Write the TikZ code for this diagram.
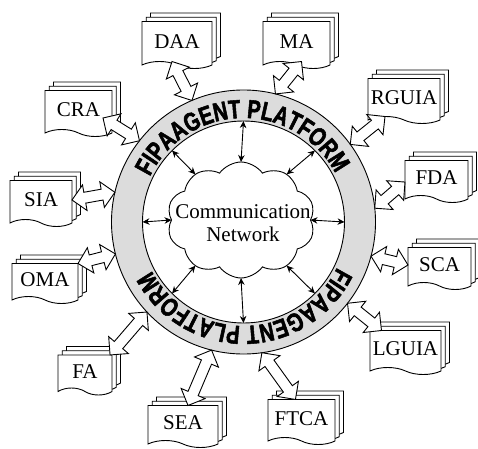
\documentclass[tikz,border=0pt]{standalone}
\usepackage{fontspec}
\setmainfont{Liberation Serif}
\newfontfamily\ringfont{Liberation Sans}[FakeStretch=0.76,FakeBold=2]
\usetikzlibrary{calc,shapes.symbols,shadows,decorations.text,arrows.meta}
\definecolor{CDCDCDC}{HTML}{DCDCDC}
\newcommand\ringtext{\ringfont\bfseries\fontsize{26}{26}\selectfont}
\tikzset{
  agent/.style={shape=tape, tape bend top=none, tape bend bottom=out and in,
    tape bend height=7pt, draw, fill=white, line width=0.9pt,
    minimum width=66pt, minimum height=44pt, inner sep=1pt,
    font=\fontsize{21}{23}\selectfont,
    copy shadow={shadow xshift=8.5pt, shadow yshift=8.5pt, line width=0.9pt},
    copy shadow={shadow xshift=4.25pt, shadow yshift=4.25pt, line width=0.9pt}},
  netarrow/.style={draw, line width=0.9pt,
    {Stealth[length=7pt,width=6.5pt]}-{Stealth[length=7pt,width=6.5pt]}},
  bigarrow/.style={draw, fill=white, line width=0.9pt, line join=miter,
    to path={let \p1=(\tikztostart), \p2=(\tikztotarget),
      \n1={atan2(\y2-\y1,\x2-\x1)}, \n2={veclen(\x2-\x1,\y2-\y1)} in
      [shift={(\p1)}, rotate=\n1]
      (0,0) -- (13,13) -- (13,5.5) -- (\n2-13,5.5) -- (\n2-13,13) -- (\n2,0)
      -- (\n2-13,-13) -- (\n2-13,-5.5) -- (13,-5.5) -- (13,-13) -- cycle}},
}

\begin{document}
\begin{tikzpicture}[x=1pt,y=1pt,inner sep=0pt,outer sep=0pt]
\useasboundingbox (0,0) rectangle (478,448);
% platform ring
\node (nring) [circle, draw, fill=CDCDCDC, line width=0.9pt, minimum size=264pt, at={(243.5pt,226pt)}] {};
\node (ninner) [circle, draw, fill=white, line width=0.9pt, minimum size=202pt, at={(nring.center)}] {};
\path [decorate, decoration={text along path, text align=center,
  text={|\ringtext|FIPAAGENT PLATFORM}}]
  ($(nring.center)+(161:104)$) arc[start angle=161, end angle=21, radius=104];
\path [decorate, decoration={text along path, text align=center,
  text={|\ringtext|FIPAAGENT PLATFORM}}]
  ($(nring.center)+(-19:104)$) arc[start angle=-19, end angle=-159, radius=104];
% network
\node (ncloud) [cloud, cloud puffs=10, cloud puff arc=110, draw, fill=white, line width=0.9pt, minimum width=148pt, minimum height=116pt, at={(241pt,228pt)}] {};
\node (nnet) [align=center, font=\fontsize{21}{23}\selectfont, at={(243pt,224.5pt)}] {Communication\\Network};
\path [netarrow] (ncloud.90)--(ninner.90);
\path [netarrow] (ncloud.135)--(ninner.135);
\path [netarrow] (ncloud.180)--(ninner.180);
\path [netarrow] (ncloud.225)--(ninner.225);
\path [netarrow] (ncloud.270)--(ninner.270);
\path [netarrow] (ncloud.315)--(ninner.315);
\path [netarrow] (ncloud.0)--(ninner.0);
\path [netarrow] (ncloud.45)--(ninner.45);
% agents
\node (ndaa) [agent, minimum width=70pt, minimum height=47pt, at={(177pt,406.5pt)}] {DAA};
\node (nma) [agent, minimum width=67pt, minimum height=47pt, at={(296.5pt,406.5pt)}] {MA};
\node (ncra) [agent, minimum width=67pt, minimum height=46pt, at={(78.5pt,338pt)}] {CRA};
\node (nrguia) [agent, minimum width=72pt, minimum height=45pt, at={(404pt,350.5pt)}] {RGUIA};
\node (nfda) [agent, minimum width=63pt, minimum height=42pt, at={(436.5pt,270pt)}] {FDA};
\node (nsia) [agent, minimum width=62pt, minimum height=46pt, at={(41pt,248pt)}] {SIA};
\node (nsca) [agent, minimum width=63pt, minimum height=42pt, at={(439.5pt,183pt)}] {SCA};
\node (noma) [agent, minimum width=66pt, minimum height=40pt, at={(45pt,168pt)}] {OMA};
\node (nlguia) [agent, minimum width=71pt, minimum height=44pt, at={(405.5pt,99pt)}] {LGUIA};
\node (nfa) [agent, minimum width=54pt, minimum height=40pt, at={(85pt,76.5pt)}] {FA};
\node (nsea) [agent, minimum width=70pt, minimum height=42pt, at={(183pt,25pt)}] {SEA};
\node (nftca) [agent, minimum width=67pt, minimum height=45pt, at={(301.5pt,29.5pt)}] {FTCA};
% platform to agents
\path [bigarrow] (nring.113) to ([xshift=-5pt]ndaa.south);
\path [bigarrow] (nring.76) to ([xshift=5pt]nma.south);
\path [bigarrow] (nring.36) to ([xshift=-19pt]nrguia.south);
\path [bigarrow] (nring.6) to ([yshift=-4pt]nfda.west);
\path [bigarrow] (nring.-15) to (nsca.west);
\path [bigarrow] (nring.-38) to ([xshift=-24pt]nlguia.north);
\path [bigarrow] (nring.-82) to ([xshift=-6pt]nftca.north);
\path [bigarrow] (nring.-104) to ([xshift=5pt]nsea.north);
\path [bigarrow] (nring.223) to ([xshift=-2pt]nfa.north east);
\path [bigarrow] (nring.194) to (noma.north east);
\path [bigarrow] (nring.167) to (nsia.east);
\path [bigarrow] (nring.142) to ([xshift=-9pt,yshift=-8pt]ncra.east);
\end{tikzpicture}
\end{document}
